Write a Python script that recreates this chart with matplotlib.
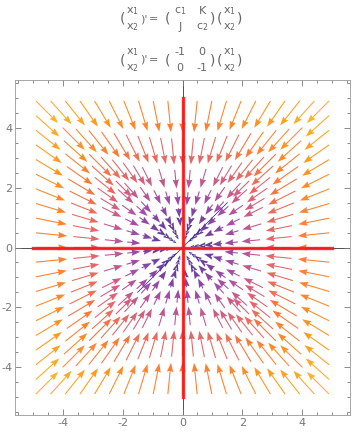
import numpy as np
import matplotlib.pyplot as plt
from matplotlib.colors import LinearSegmentedColormap

# system matrix x' = A x
A = np.array([[-1.0, 0.0],
              [0.0, -1.0]])
# eigenvector directions (drawn in red)
eig_dirs = [(1.0, 0.0), (0.0, 1.0)]
ticks = [-4, -2, 0, 2, 4]
tick_labels = ['-4', '-2', '0', '2', '4']

gray = '#777777'
fig = plt.figure(figsize=(3.52, 4.32), dpi=100)
ax = fig.add_axes([15 / 352, 1 - 415 / 432, 335 / 352, 335 / 432])

cmap = LinearSegmentedColormap.from_list('spd', [
    (0.0, '#1c1c70'), (0.12, '#5e2a96'), (0.26, '#9a3a9e'),
    (0.42, '#d5506a'), (0.6, '#ff6a20'), (0.76, '#ff8c00'),
    (1.0, '#ffbb22')])

# stream seeds on the border of the field, then follow x' = A x inward
edge = np.linspace(-4.9, 4.9, 21)
seeds = np.unique(np.round(np.concatenate([
    np.column_stack([edge, np.full_like(edge, 4.9)]),
    np.column_stack([edge, np.full_like(edge, -4.9)]),
    np.column_stack([np.full_like(edge, 4.9), edge]),
    np.column_stack([np.full_like(edge, -4.9), edge]),
]), 6), axis=0)
seeds = seeds[np.argsort(np.arctan2(seeds[:, 1], seeds[:, 0]))]

P, D = [], []
for i, p in enumerate(seeds):
    p = p.copy()
    while True:
        r = np.hypot(*p)
        if r < 0.3:
            break
        # fewer streamlines survive close to the sink
        if (r < 3.0 and i % 2) or (r < 1.8 and i % 4) or (r < 0.9 and i % 8):
            break
        v = A @ p
        step = min(0.24 * r, 1.05)
        d = v / np.hypot(*v) * step
        P.append(p.copy())
        D.append(d)
        p = p + d * 1.2
P = np.array(P)
D = np.array(D)
spd = np.hypot(*(A @ (P + D / 2).T))

ax.axhline(0, color='#333333', lw=0.6, zorder=0)
ax.axvline(0, color='#333333', lw=0.6, zorder=0)
ax.plot([-1.5, 1.5], [-1.5, 1.5], color='#1c1c70', lw=0.5, zorder=1)

ax.quiver(P[:, 0], P[:, 1], D[:, 0], D[:, 1], spd, cmap=cmap,
          norm=plt.Normalize(0, 7.0), angles='xy', scale_units='xy', scale=1,
          width=0.0032, headwidth=6, headlength=8.5, headaxislength=7.6,
          minshaft=0.6, alpha=0.9, zorder=2)

for dx, dy in eig_dirs:
    ax.plot([-5 * dx, 5 * dx], [-5 * dy, 5 * dy], color='#ff1a1a', lw=2.4,
            alpha=0.9, zorder=3)

ax.set_xlim(-5.6, 5.6)
ax.set_ylim(-5.6, 5.6)
ax.set_xticks(ticks)
ax.set_yticks(ticks)
ax.set_xticks(np.arange(-5.5, 5.6, 0.5), minor=True)
ax.set_yticks(np.arange(-5.5, 5.6, 0.5), minor=True)
ax.tick_params(which='both', direction='in', top=True, right=True,
               colors=gray, labelsize=8, width=0.6, pad=2)
ax.tick_params(which='major', length=4)
ax.tick_params(which='minor', length=2)
ax.set_xticklabels(tick_labels)
ax.set_yticklabels(tick_labels)
for s in ax.spines.values():
    s.set_color('#999999')
    s.set_linewidth(0.6)


def t(x, y, s, size=8):
    fig.text(x / 352, 1 - y / 432, s, ha='center', va='center',
             color='#666666', fontsize=size)


def column(x, y, top, bot):
    t(x, y - 8, top)
    t(x, y + 8, bot)


def equation(y, m):
    t(122, y, '(', 10)
    column(132, y, 'x$_1$', 'x$_2$')
    t(144, y, ")'", 8)
    t(154, y, '=', 8)
    t(167, y, '(', 10)
    column(180, y, m[0][0], m[1][0])
    column(202, y, m[0][1], m[1][1])
    t(213, y, ')', 10)
    t(219, y, '(', 10)
    column(229, y, 'x$_1$', 'x$_2$')
    t(240, y, ')', 10)


equation(19, [['c$_1$', 'K'], ['J', 'c$_2$']])
equation(60, [['-1', '0'], ['0', '-1']])

fig.savefig('out.png', dpi=100)
